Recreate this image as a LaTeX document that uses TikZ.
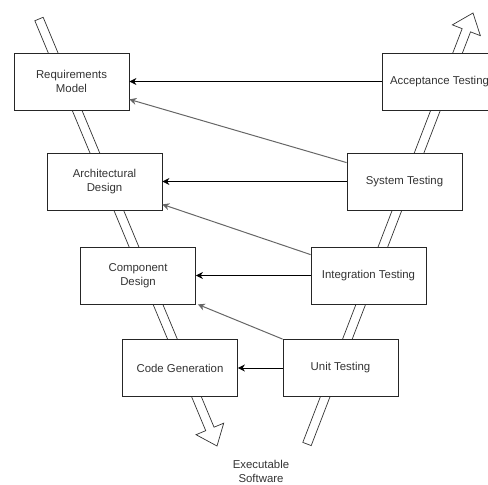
\documentclass[tikz,border=0pt]{standalone}
\usepackage{fontspec}
\setmainfont{Liberation Sans}
\usetikzlibrary{calc,arrows.meta}
\begin{document}
\begin{tikzpicture}[x=1pt,y=-1pt,
  box/.style={draw=black!85, line width=0.8pt, fill=white, minimum width=115pt, minimum height=57pt, inner sep=0pt, align=center, font=\fontsize{11.4}{14}\selectfont, text=black!80},
  lbl/.style={inner sep=0pt, align=center, font=\fontsize{11.4}{14}\selectfont, text=black!80},
  conn/.style={draw=black, line width=0.8pt, -{Stealth[length=7pt,width=7pt]}},
  diag/.style={conn, draw=black!60, line width=1pt},
  band/.style={draw=black!80, line width=0.7pt, fill=white, line join=miter}]
\clip (0,0) rectangle (488,485);
% left (downward) band
\coordinate (lt) at (39,19);
\coordinate (lh) at (217,446);
\coordinate (lb) at ($(lh)!18.5pt!(lt)$);
\draw[band] ($(lt)!4.5pt!90:(lh)$) -- ($(lb)!4.5pt!90:(lh)$) -- ($(lb)!15pt!90:(lh)$) -- (lh)
  -- ($(lb)!15pt!-90:(lh)$) -- ($(lb)!4.5pt!-90:(lh)$) -- ($(lt)!4.5pt!-90:(lh)$) -- cycle;
% right (upward) band
\coordinate (rt) at (307,444);
\coordinate (rh) at (473,13);
\coordinate (rb) at ($(rh)!18.5pt!(rt)$);
\draw[band] ($(rt)!4.5pt!90:(rh)$) -- ($(rb)!4.5pt!90:(rh)$) -- ($(rb)!15pt!90:(rh)$) -- (rh)
  -- ($(rb)!15pt!-90:(rh)$) -- ($(rb)!4.5pt!-90:(rh)$) -- ($(rt)!4.5pt!-90:(rh)$) -- cycle;
% boxes
\node[box] (req) at (71.5,81.5) {Requirements\\Model};
\node[box] (arch) at (104.5,181.5) {Architectural\\Design};
\node[box] (comp) at (138,275.5) {Component\\Design};
\node[box] (code) at (180,368) {Code Generation};
\node[box] (acc) at (439.5,81.5) {Acceptance Testing};
\node[box] (sys) at (404.5,181.5) {System Testing};
\node[box] (int) at (368.5,275.5) {Integration Testing};
\node[box] (unit) at (340.5,368) {Unit Testing};
\node[lbl] (exe) at (261,471) {Executable\\Software};
% connectors
\draw[conn] (acc.west) -- (req.east);
\draw[conn] (sys.west) -- (arch.east);
\draw[conn] (int.west) -- (comp.east);
\draw[conn] (unit.west) -- (code.east);
\draw[diag] ($(sys.north west)+(0,10)$) -- ($(req.south east)+(0,-11)$);
\draw[diag] ($(int.north west)+(0,8)$) -- ($(arch.south east)+(0,-6)$);
\draw[diag] (unit.north west) -- ($(comp.south east)+(2,0)$);
\end{tikzpicture}
\end{document}
